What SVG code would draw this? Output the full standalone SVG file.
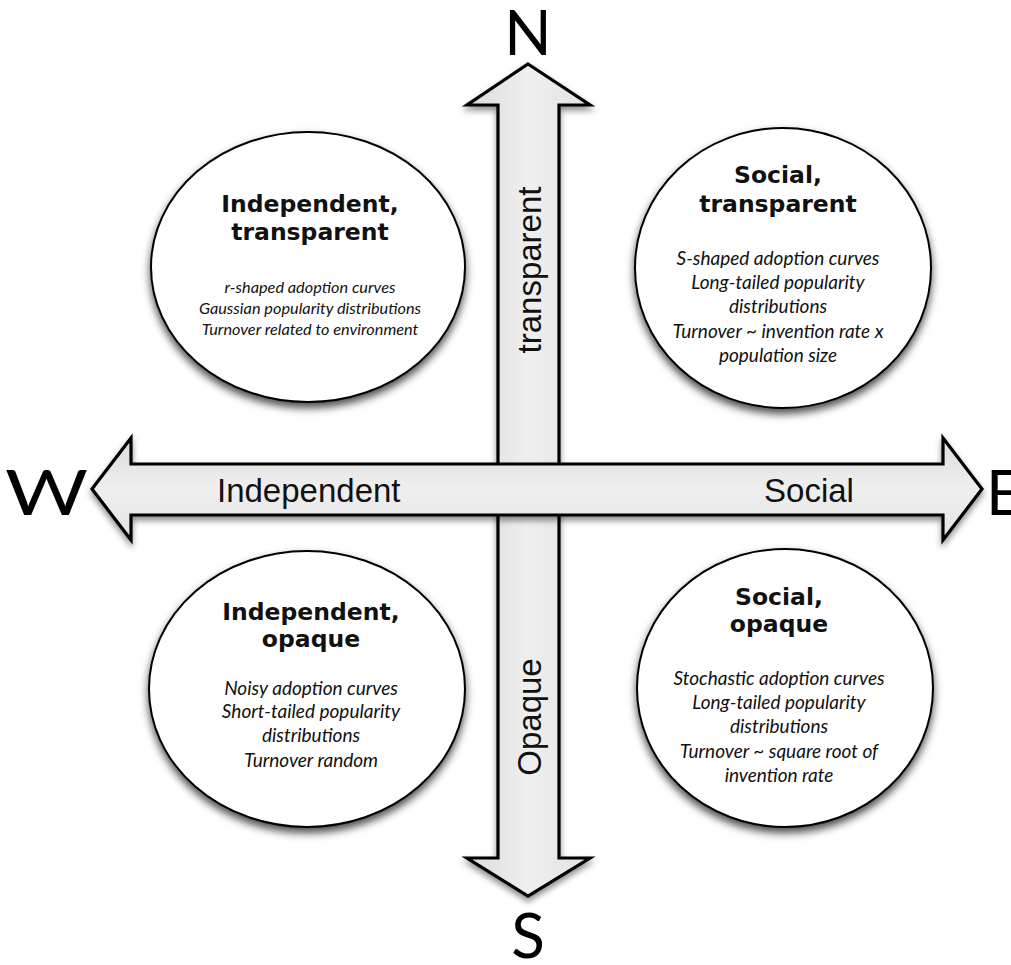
<svg xmlns="http://www.w3.org/2000/svg" width="1011" height="965" viewBox="0 0 1011 965">
<defs>
<filter id="sh" x="-20%" y="-20%" width="140%" height="140%">
<feDropShadow dx="0" dy="5" stdDeviation="4.5" flood-color="#000" flood-opacity="0.7"/>
</filter>
<filter id="ash" x="-10%" y="-10%" width="120%" height="130%">
<feDropShadow dx="0" dy="4" stdDeviation="3" flood-color="#000" flood-opacity="0.45"/>
</filter>
<linearGradient id="gv" x1="0" y1="0" x2="1" y2="0">
<stop offset="0" stop-color="#dcdcdc"/><stop offset="0.5" stop-color="#efefef"/><stop offset="1" stop-color="#e2e2e2"/>
</linearGradient>
<linearGradient id="gh" x1="0" y1="0" x2="0" y2="1">
<stop offset="0" stop-color="#dcdcdc"/><stop offset="0.5" stop-color="#efefef"/><stop offset="1" stop-color="#e2e2e2"/>
</linearGradient>
</defs>
<style>
.arrow{stroke:#000;stroke-width:3.2;stroke-linejoin:miter}
.ell{fill:#fff;stroke:#000;stroke-width:2}
.hd{font-family:"DejaVu Sans",Lato,sans-serif;font-weight:bold;font-size:23.5px;fill:#111;text-anchor:middle}
.bd{font-family:Lato,"Open Sans",sans-serif;font-style:italic;font-size:19px;fill:#111;text-anchor:middle}
.bds{font-size:16.3px}
.ax{font-family:"Liberation Sans",Arial,sans-serif;font-size:33px;fill:#111}
.cp{font-family:Lato,"Open Sans",sans-serif;font-weight:400;font-size:62px;fill:#000}
.mid{text-anchor:middle}
.st{text-anchor:start}
</style>
<rect width="1011" height="965" fill="#fff"/>
<g id="connectors">
<polygon id="axis-ns" class="arrow" fill="url(#gv)" filter="url(#ash)" points="528,64 590,105 559,105 559,858 590,858 528,896 467,858 498,858 498,105 467,105"/>
<polygon id="axis-we" class="arrow" fill="url(#gh)" filter="url(#ash)" points="92,489 131,438 131,464 943,464 943,438 982,489 943,540 943,515 131,515 131,540"/>
<text class="ax" x="217" y="502">Independent</text>
<text class="ax mid" x="809" y="502">Social</text>
<text class="ax mid" transform="translate(541,270) rotate(-90)">transparent</text>
<text class="ax mid" transform="translate(541,717) rotate(-90)">Opaque</text>
</g>
<g id="compass">
<text class="cp mid" x="528" y="55">N</text>
<text class="cp mid" x="528" y="958">S</text>
<text class="cp st" x="5" y="515" textLength="83" lengthAdjust="spacingAndGlyphs">W</text>
<text class="cp st" x="986" y="515">E</text>
</g>
<g id="node-independent-transparent">
<ellipse class="ell" filter="url(#sh)" cx="308" cy="267" rx="157" ry="135"/>
<text class="hd" x="310" y="212">Independent,</text>
<text class="hd" x="310" y="240">transparent</text>
<text class="bd bds" x="310" y="293">r-shaped adoption curves</text>
<text class="bd bds" x="310" y="314">Gaussian popularity distributions</text>
<text class="bd bds" x="310" y="335">Turnover related to environment</text>
</g>
<g id="node-social-transparent">
<ellipse class="ell" filter="url(#sh)" cx="783" cy="268" rx="148" ry="140"/>
<text class="hd" x="778" y="183">Social,</text>
<text class="hd" x="778" y="212">transparent</text>
<text class="bd" x="778" y="265">S-shaped adoption curves</text>
<text class="bd" x="778" y="289">Long-tailed popularity</text>
<text class="bd" x="778" y="313">distributions</text>
<text class="bd" x="778" y="338">Turnover ~ invention rate x</text>
<text class="bd" x="778" y="362">population size</text>
</g>
<g id="node-independent-opaque">
<ellipse class="ell" filter="url(#sh)" cx="307" cy="689" rx="158" ry="138"/>
<text class="hd" x="311" y="620">Independent,</text>
<text class="hd" x="311" y="647">opaque</text>
<text class="bd" x="311" y="695">Noisy adoption curves</text>
<text class="bd" x="311" y="718">Short-tailed popularity</text>
<text class="bd" x="311" y="742">distributions</text>
<text class="bd" x="311" y="767">Turnover random</text>
</g>
<g id="node-social-opaque">
<ellipse class="ell" filter="url(#sh)" cx="785" cy="688" rx="148" ry="139"/>
<text class="hd" x="779" y="605">Social,</text>
<text class="hd" x="779" y="632">opaque</text>
<text class="bd" x="779" y="685">Stochastic adoption curves</text>
<text class="bd" x="779" y="709">Long-tailed popularity</text>
<text class="bd" x="779" y="733">distributions</text>
<text class="bd" x="779" y="758">Turnover ~ square root of</text>
<text class="bd" x="779" y="782">invention rate</text>
</g>
</svg>
